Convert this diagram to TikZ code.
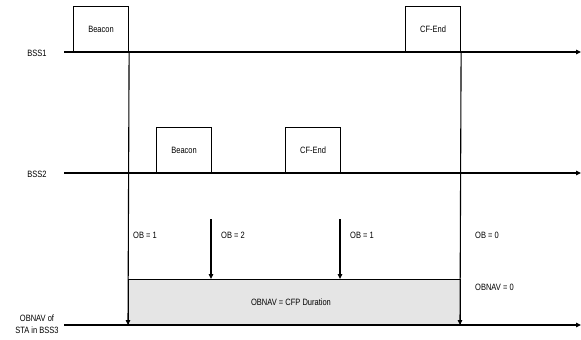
\documentclass[tikz,border=0pt]{standalone}
\usepackage{fontspec}
\setmainfont{Liberation Sans}[FakeStretch=0.82]
\usetikzlibrary{arrows.meta}
\begin{document}
\begin{tikzpicture}[x=1bp,y=-1bp,
  line/.style={line width=1.1bp},
  tl/.style={line, -{Triangle[length=5bp,width=4.5bp]}},
  frame/.style={draw, line width=1.1bp, minimum width=55bp, minimum height=45bp, inner sep=0pt, anchor=south west, font=\fontsize{9.2}{11}\selectfont},
  lbl/.style={font=\fontsize{9.2}{11}\selectfont, inner sep=0pt},
  llbl/.style={lbl, anchor=west}]
\useasboundingbox (0,0) rectangle (581,339);
% axes
\coordinate (a1s) at (64,52); \coordinate (a1e) at (581,52);
\coordinate (a2s) at (64,173); \coordinate (a2e) at (581,173);
\coordinate (a3s) at (64,325); \coordinate (a3e) at (581,325);
% gray rect
\node[draw, line width=1.1bp, fill=black!10, anchor=north west, minimum width=332bp, minimum height=46bp, inner sep=0pt] (nav) at (128,279) {};
\node[lbl] (navt) at (291,302) {OBNAV = CFP Duration};
\draw[tl] (a1s) -- (a1e);
\draw[tl] (a2s) -- (a2e);
\draw[tl] (a3s) -- (a3e);
% labels
\node[lbl] (l1) at (37,53) {BSS1};
\node[lbl] (l2) at (37,174) {BSS2};
\node[lbl, align=center] (l3) at (37,324.5) {OBNAV of\\[1bp]STA in BSS3};
% boxes
\node[frame] (b1) at (73,52) {Beacon};
\node[frame] (c1) at (405,52) {CF-End};
\node[frame] (b2) at (156,173) {Beacon};
\node[frame] (c2) at (285,173) {CF-End};
% verticals
\coordinate (v1e) at (128,325);
\coordinate (v2e) at (460,325);
\draw[tl] (b1.south east) -- (v1e);
\draw[tl] (c1.south east) -- (v2e);
\coordinate (p1) at (211,219); \coordinate (q1) at (211,279);
\coordinate (p2) at (340,219); \coordinate (q2) at (340,279);
\draw[tl] (p1) -- (q1);
\draw[tl] (p2) -- (q2);
% OB labels
\node[llbl] (o1) at (133,235) {OB = 1};
\node[llbl] (o2) at (221,235) {OB = 2};
\node[llbl] (o3) at (350,235) {OB = 1};
\node[llbl] (o4) at (475,235) {OB = 0};
\node[llbl] (o5) at (475,287) {OBNAV = 0};
\end{tikzpicture}
\end{document}
